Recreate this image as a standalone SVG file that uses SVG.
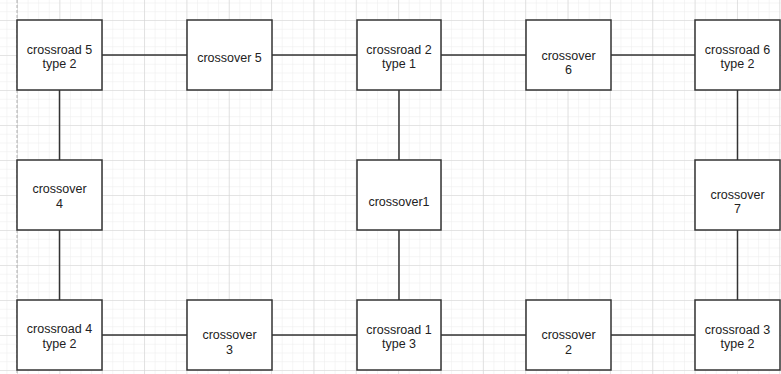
<svg xmlns="http://www.w3.org/2000/svg" width="781" height="374" viewBox="0 0 781 374">
  <style>
    .node rect { fill: #ffffff; stroke: #333333; stroke-width: 1.5; }
    .node text { font-family: "Liberation Sans", Arial, sans-serif; font-size: 12.5px; fill: #222222; text-anchor: middle; }
    #edges line { stroke: #333333; stroke-width: 1.5; }
  </style>
  <defs>
    <!-- fine grid cells -->
    <pattern id="minor" x="17" y="20" width="10.5875" height="8.75" patternUnits="userSpaceOnUse">
      <path d="M0 0V8.75M0 0H10.5875" fill="none" stroke="#ececec" stroke-width="1"/>
    </pattern>
    <!-- coarse grid cells -->
    <pattern id="major" x="17" y="20" width="42.35" height="35" patternUnits="userSpaceOnUse">
      <path d="M0 0V35M0 0H42.35" fill="none" stroke="#d4d4d4" stroke-width="1.2"/>
    </pattern>
  </defs>

  <!-- background grid -->
  <rect x="0" y="0" width="781" height="374" fill="#ffffff"/>
  <rect x="0" y="0" width="781" height="374" fill="url(#minor)"/>
  <rect x="0" y="0" width="781" height="374" fill="url(#major)"/>
  <!-- page boundary -->
  <line x1="17" y1="0" x2="17" y2="374" stroke="#b0b0b0" stroke-width="1" stroke-dasharray="3 2"/>

  <!-- connectors -->
  <g id="edges">
    <line x1="102" y1="55" x2="187" y2="55"/>
    <line x1="272" y1="55" x2="357" y2="55"/>
    <line x1="441" y1="55" x2="526" y2="55"/>
    <line x1="611" y1="55" x2="695" y2="55"/>
    <line x1="102" y1="335" x2="187" y2="335"/>
    <line x1="272" y1="335" x2="357" y2="335"/>
    <line x1="441" y1="335" x2="526" y2="335"/>
    <line x1="611" y1="335" x2="695" y2="335"/>
    <line x1="59.5" y1="90" x2="59.5" y2="160"/>
    <line x1="59.5" y1="230" x2="59.5" y2="300"/>
    <line x1="399" y1="90" x2="399" y2="160"/>
    <line x1="399" y1="230" x2="399" y2="300"/>
    <line x1="737.5" y1="90" x2="737.5" y2="160"/>
    <line x1="737.5" y1="230" x2="737.5" y2="300"/>
  </g>

  <!-- top row -->
  <g id="crossroad5" class="node">
    <rect x="17" y="20" width="85" height="70"/>
    <text x="59.5" y="53.5">crossroad 5</text>
    <text x="59.5" y="68">type 2</text>
  </g>
  <g id="crossover5" class="node">
    <rect x="187" y="20" width="85" height="70"/>
    <text x="229.5" y="62">crossover 5</text>
  </g>
  <g id="crossroad2" class="node">
    <rect x="357" y="20" width="84" height="70"/>
    <text x="399" y="53.5">crossroad 2</text>
    <text x="399" y="68">type 1</text>
  </g>
  <g id="crossover6" class="node">
    <rect x="526" y="20" width="85" height="70"/>
    <text x="568.5" y="59.5">crossover</text>
    <text x="568.5" y="74">6</text>
  </g>
  <g id="crossroad6" class="node">
    <rect x="695" y="20" width="85" height="70"/>
    <text x="737.5" y="53.5">crossroad 6</text>
    <text x="737.5" y="68">type 2</text>
  </g>

  <!-- middle row -->
  <g id="crossover4" class="node">
    <rect x="17" y="160" width="85" height="70"/>
    <text x="59.5" y="193">crossover</text>
    <text x="59.5" y="207.5">4</text>
  </g>
  <g id="crossover1" class="node">
    <rect x="357" y="160" width="84" height="70"/>
    <text x="399" y="206">crossover1</text>
  </g>
  <g id="crossover7" class="node">
    <rect x="695" y="160" width="85" height="70"/>
    <text x="737.5" y="198.5">crossover</text>
    <text x="737.5" y="213">7</text>
  </g>

  <!-- bottom row -->
  <g id="crossroad4" class="node">
    <rect x="17" y="300" width="85" height="70"/>
    <text x="59.5" y="333">crossroad 4</text>
    <text x="59.5" y="347.5">type 2</text>
  </g>
  <g id="crossover3" class="node">
    <rect x="187" y="300" width="85" height="70"/>
    <text x="229.5" y="339">crossover</text>
    <text x="229.5" y="353.5">3</text>
  </g>
  <g id="crossroad1" class="node">
    <rect x="357" y="300" width="84" height="70"/>
    <text x="399" y="333.5">crossroad 1</text>
    <text x="399" y="348">type 3</text>
  </g>
  <g id="crossover2" class="node">
    <rect x="526" y="300" width="85" height="70"/>
    <text x="568.5" y="339">crossover</text>
    <text x="568.5" y="353.5">2</text>
  </g>
  <g id="crossroad3" class="node">
    <rect x="695" y="300" width="85" height="70"/>
    <text x="737.5" y="333.5">crossroad 3</text>
    <text x="737.5" y="348">type 2</text>
  </g>
</svg>
